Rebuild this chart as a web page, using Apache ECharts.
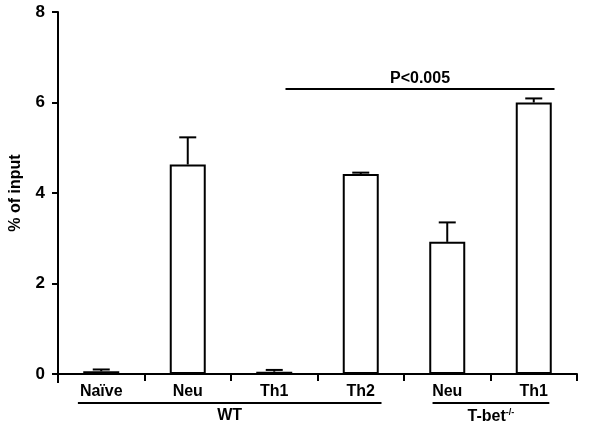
<!DOCTYPE html>
<html><head><meta charset="utf-8">
<script src="https://cdn.jsdelivr.net/npm/echarts@6/dist/echarts.min.js"></script>
<style>html,body{margin:0;padding:0;background:#fff}#c{width:600px;height:429px}</style>
</head><body><div id="c"></div>
<script>
var categories = ['Naïve', 'Neu', 'Th1', 'Th2', 'Neu', 'Th1'];
var means = [0.06, 4.63, 0.05, 4.42, 2.92, 6.0];
var errUpper = [0.1, 5.23, 0.09, 4.45, 3.35, 6.09];
var yTicks = [0, 2, 4, 6, 8];
var groups = [
  {name: 'WT', from: 0.23, to: 3.74},
  {name: 'T-bet', sup: '-/-', from: 4.33, to: 5.68}
];
var sig = {text: 'P<0.005', from: 2.63, to: 5.74, y: 6.3};

var FONT = 'Liberation Sans, Arial, sans-serif';
var chart = echarts.init(document.getElementById('c'), null, {renderer: 'canvas'});

var option = {
  animation: false,
  backgroundColor: '#fff',
  grid: {left: 57, right: 23, top: 12, bottom: 55},
  xAxis: [{
    type: 'category',
    data: categories.map(function (c, i) { return i; }),
    axisLine: {lineStyle: {color: '#000', width: 2}},
    axisTick: {show: true, length: 7, lineStyle: {color: '#000', width: 2}},
    axisLabel: {
      color: '#000', fontFamily: FONT, fontWeight: 'bold', fontSize: 16, margin: 10,
      formatter: function (v) { return categories[+v]; }
    }
  }, {
    type: 'value', min: 0, max: categories.length, show: false
  }],
  yAxis: {
    type: 'value', min: yTicks[0], max: yTicks[yTicks.length - 1], interval: 2,
    name: '% of input', nameLocation: 'middle', nameGap: 34, nameRotate: 90,
    nameTextStyle: {color: '#000', fontFamily: FONT, fontWeight: 'bold', fontSize: 16},
    axisLine: {show: true, lineStyle: {color: '#000', width: 2}},
    axisTick: {show: true, length: 6, lineStyle: {color: '#000', width: 2}},
    axisLabel: {color: '#000', fontFamily: FONT, fontWeight: 'bold', fontSize: 17, margin: 13},
    splitLine: {show: false}
  },
  series: [{
    type: 'bar',
    data: means,
    barWidth: 36,
    itemStyle: {color: '#fff', borderColor: '#000', borderWidth: 2},
    z: 3
  }, {
    type: 'custom',
    data: means.map(function (m, i) { return [i, m, errUpper[i]]; }),
    z: 4,
    renderItem: function (params, api) {
      var x = api.value(0);
      var lo = api.coord([x, api.value(1)]);
      var hi = api.coord([x, api.value(2)]);
      var hw = 8.5;
      return {
        type: 'group',
        children: [
          {type: 'line', shape: {x1: lo[0], y1: lo[1], x2: hi[0], y2: hi[1]}, style: {stroke: '#000', lineWidth: 2}},
          {type: 'line', shape: {x1: hi[0] - hw, y1: hi[1], x2: hi[0] + hw, y2: hi[1]}, style: {stroke: '#000', lineWidth: 2}}
        ]
      };
    }
  }, {
    type: 'line',
    xAxisIndex: 1,
    data: [[sig.from, sig.y], [sig.to, sig.y]],
    symbol: 'none',
    lineStyle: {color: '#000', width: 2},
    z: 5
  }]
};
chart.setOption(option);

function px(x, y) { return chart.convertToPixel({xAxisIndex: 1, yAxisIndex: 0}, [x, y]); }
var g = [];
var sp = px((sig.from + sig.to) / 2, sig.y);
g.push({type: 'text', x: sp[0], y: sp[1] - 2, style: {text: sig.text, fill: '#000', font: 'bold 16px ' + FONT, textAlign: 'center', textVerticalAlign: 'bottom'}});
var base = px(0, 0)[1];
g.push({type: 'line', shape: {x1: px(0, 0)[0], y1: base, x2: px(0, 0)[0], y2: base + 9}, style: {stroke: '#000', lineWidth: 2}});
groups.forEach(function (gr) {
  var a = px(gr.from, 0), b = px(gr.to, 0);
  var ly = base + 29;
  g.push({type: 'line', shape: {x1: a[0], y1: ly, x2: b[0], y2: ly}, style: {stroke: '#000', lineWidth: 2}});
  var txt = gr.sup ? '{m|' + gr.name + '}{s|' + gr.sup + '}' : '{m|' + gr.name + '}';
  g.push({type: 'text', x: (a[0] + b[0]) / 2, y: ly + 5, style: {
    text: txt, textAlign: 'center', textVerticalAlign: 'top',
    rich: {
      m: {fill: '#000', font: 'bold 16px ' + FONT},
      s: {fill: '#000', font: 'bold 9px ' + FONT, verticalAlign: 'top', padding: [0, 0, 8, 0]}
    }
  }});
});
chart.setOption({graphic: g});
</script></body></html>
